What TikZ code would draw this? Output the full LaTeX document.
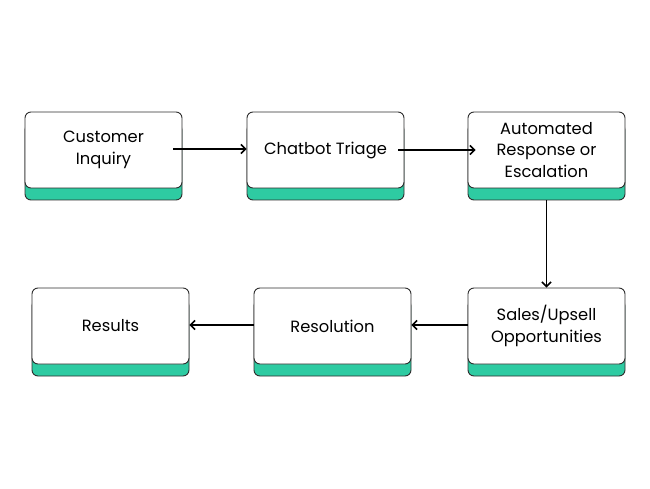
\documentclass[tikz,border=0pt]{standalone}
\usepackage{fontspec}
\setmainfont{Poppins}
\usetikzlibrary{arrows.meta,shadows}
\definecolor{mint}{RGB}{46,203,162}
\definecolor{edge}{RGB}{45,45,45}
\begin{document}
\begin{tikzpicture}[x=1pt,y=1pt,
  card/.style={draw=edge,line width=0.9pt,fill=white,rounded corners=6pt,
    minimum width=157pt,minimum height=76pt,align=center,inner sep=2pt,
    font=\fontsize{16.3}{21.5}\selectfont,
    general shadow={shadow yshift=-12pt,fill=mint,draw=edge,line width=0.9pt}},
  link/.style={line width=1.6pt,-{Straight Barb[length=4.5pt,width=9pt,line width=1.6pt]}}]
\useasboundingbox (0,0) rectangle (650,488);

% top row
\node[card] (inquiry) at (103.5,338) {Customer\\Inquiry};
\node[card] (triage) at (325.5,338) {Chatbot Triage};
\node[card] (auto) at (546.5,338) {Automated\\Response or\\Escalation};

% bottom row
\node[card] (sales) at (546.5,162) {Sales/Upsell\\Opportunities};
\node[card] (resol) at (332.5,162) {Resolution};
\node[card] (results) at (110.5,162) {Results};

\draw[link] ([shift={(-9,1)}]inquiry.east) -- ([yshift=1]triage.west);
\draw[link] ([shift={(-6,0)}]triage.east) -- ([xshift=8]auto.west);
\draw[link] ([yshift=-12]auto.south) -- (sales.north);
\draw[link] ([yshift=1]sales.west) -- ([yshift=1]resol.east);
\draw[link] ([yshift=1]resol.west) -- ([yshift=1]results.east);
\end{tikzpicture}
\end{document}
